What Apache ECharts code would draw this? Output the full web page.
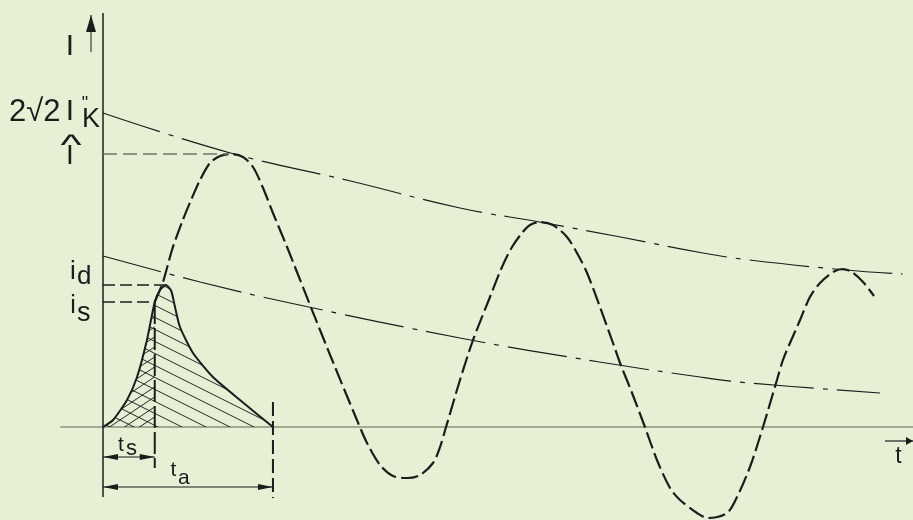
<!DOCTYPE html>
<html><head><meta charset="utf-8">
<script src="https://cdn.jsdelivr.net/npm/echarts@6/dist/echarts.min.js"></script>
<style>html,body{margin:0;padding:0;background:#e6f0d5;}#c{width:913px;height:520px;}</style>
</head><body><div id="c"></div>
<script>
// ---------- data (time in ms-like units, current in arbitrary units) ----------
const ts = 3.45;            // pre-arcing time t_s
const ta = 11.33;           // total clearing time t_a
const yTickValues = [3.14, 2.73, 1.42, 1.25];        // 2√2 I"K, Î, i_d, i_s
const yTickLabels = ['2√2 I″K', 'Î', 'i_d', 'i_s'];
const xTickValues = [ts, ta];
const xTickLabels = ['t_s', 't_a'];

const prospectiveT = [3.45, 4.0, 4.6, 5.27, 5.93, 6.47, 7.13, 7.8, 8.47, 9.33, 10.0, 10.67, 11.33, 12.27, 13.8, 15.33, 16.93, 17.6, 18.47, 19.33, 20.27, 21.13, 22.0, 22.47, 22.87, 23.8, 24.67, 25.8, 26.6, 27.27, 27.93, 28.47, 29.13, 30.0, 30.93, 31.6, 32.27, 33.13, 34.0, 34.47, 35.27, 36.13, 36.93, 37.8, 38.47, 39.6, 40.33, 41.6, 42.27, 43.13, 44.0, 44.93, 45.33, 45.8, 46.47, 47.13, 47.8, 48.67, 49.33, 49.93, 50.67, 51.4];
const prospectiveI = [1.25, 1.45, 1.77, 2.05, 2.29, 2.47, 2.64, 2.71, 2.73, 2.70, 2.60, 2.39, 2.14, 1.80, 1.22, 0.65, 0.07, -0.16, -0.38, -0.49, -0.51, -0.48, -0.36, -0.20, 0, 0.47, 0.87, 1.30, 1.60, 1.80, 1.94, 2.02, 2.05, 2.02, 1.90, 1.74, 1.54, 1.20, 0.84, 0.64, 0.34, 0, -0.33, -0.61, -0.73, -0.86, -0.91, -0.86, -0.70, -0.40, 0, 0.47, 0.67, 0.84, 1.07, 1.30, 1.44, 1.55, 1.58, 1.55, 1.45, 1.31];

const upperEnvT = [0, 8.5, 16.5, 23.8, 29.1, 34.5, 40.0, 43.1, 49.5, 53.3];
const upperEnvI = [3.14, 2.74, 2.46, 2.19, 2.05, 1.90, 1.74, 1.67, 1.57, 1.53];

const lowerEnvT = [0, 6.47, 12.47, 23.8, 33.1, 39.8, 43.1, 51.8];
const lowerEnvI = [1.71, 1.45, 1.24, 0.89, 0.65, 0.50, 0.44, 0.34];

const cutoffT = [0, 0.67, 1.6, 2.27, 2.93, 3.45, 3.8, 4.2, 4.55, 4.8, 5.13, 6.0, 7.33, 9.13, 11.33];
const cutoffI = [0, 0.07, 0.27, 0.50, 0.87, 1.25, 1.37, 1.42, 1.36, 1.20, 1.00, 0.74, 0.50, 0.27, 0];

// ---------- helpers ----------
const INK = '#1c1c1c';
const FONT = '"Liberation Sans", Arial, Helvetica, sans-serif';
const zip = (a, b) => a.map((v, i) => [v, b[i]]);

function hatch(w, h, down) {
  const c = document.createElement('canvas');
  c.width = w; c.height = h;
  const g = c.getContext('2d');
  g.strokeStyle = '#262626'; g.lineWidth = 1;
  g.beginPath();
  for (let k = -1; k <= 1; k++) {
    if (down) { g.moveTo(0, k * h); g.lineTo(w, k * h + h); }
    else { g.moveTo(0, k * h + h); g.lineTo(w, k * h); }
  }
  g.stroke();
  return c;
}

const idV = yTickValues[2], isV = yTickValues[3], peakV = yTickValues[1];
const annots = [
  { from: [0, -0.70], to: [0, 4.14], width: 1.5 },                                   // I axis
  { from: [-0.8, 3.75], to: [-0.8, 4.12], width: 1, heads: 'end', len: 17, w: 10 },  // I arrow
  { from: [52.13, -0.14], to: [54, -0.14], width: 1.2, heads: 'end', len: 7, w: 8 }, // t arrow
  { from: [0, peakV], to: [8.4, peakV], width: 1.4, dash: [14, 6], color: '#6f7568' },
  { from: [0, idV], to: [4.1, idV], width: 1.5, dash: [12, 5] },
  { from: [0, isV], to: [ts, isV], width: 1.5, dash: [12, 5] },
  { from: [ts, isV], to: [ts, -0.41], width: 2, dash: [22, 4] },
  { from: [ta, 0.25], to: [ta, -0.71], width: 2, dash: [14, 5] },
  { from: [0, -0.30], to: [ts, -0.30], width: 1, heads: 'both', len: 15, w: 6 },
  { from: [0, -0.60], to: [ta, -0.60], width: 1, heads: 'both', len: 15, w: 6 }
];

function head(tip, ux, uy, len, w) {
  const bx = tip[0] - ux * len, by = tip[1] - uy * len, nx = -uy, ny = ux;
  return { type: 'polygon', shape: { points: [tip, [bx + nx * w / 2, by + ny * w / 2], [bx - nx * w / 2, by - ny * w / 2]] }, style: { fill: INK } };
}

const chart = echarts.init(document.getElementById('c'), null, { renderer: 'canvas' });
const option = {
  backgroundColor: '#e6f0d5',
  animation: false,
  grid: { left: 61, right: 0, top: 0, bottom: 0 },
  xAxis: {
    type: 'value', min: -2.8, max: 54,
    axisLine: { show: true, onZero: true, lineStyle: { color: '#8a9282', width: 1.5 } },
    axisTick: { show: false }, axisLabel: { show: false }, splitLine: { show: false }
  },
  yAxis: { type: 'value', min: -0.93, max: 4.27, show: false },
  series: [
    { type: 'line', data: zip(upperEnvT, upperEnvI), smooth: 0.4, symbol: 'none', z: 2,
      lineStyle: { color: INK, width: 1.2, type: [60, 9, 5, 9] } },
    { type: 'line', data: zip(lowerEnvT, lowerEnvI), smooth: 0.4, symbol: 'none', z: 2,
      lineStyle: { color: INK, width: 1.2, type: [60, 9, 5, 9] } },
    { type: 'line', data: zip(prospectiveT, prospectiveI), smooth: 0.3, symbol: 'none', z: 3,
      lineStyle: { color: INK, width: 2.2, type: [17, 5] } },
    { type: 'line', data: zip(cutoffT, cutoffI), smooth: 0.2, symbol: 'none', z: 4,
      lineStyle: { color: INK, width: 2 },
      areaStyle: { color: { image: hatch(24, 12, true), repeat: 'repeat' }, opacity: 1 } },
    { type: 'line', data: zip(cutoffT, cutoffI).filter(p => p[0] <= ts), smooth: 0.2, symbol: 'none', z: 4,
      lineStyle: { width: 0, opacity: 0 },
      areaStyle: { color: { image: hatch(15, 10, false), repeat: 'repeat' }, opacity: 1 } },
    { type: 'custom', z: 5, clip: false,
      data: annots.map((a, i) => [i, 0]),
      renderItem: function (params, api) {
        const a = annots[params.dataIndex];
        const p1 = api.coord(a.from), p2 = api.coord(a.to);
        const ch = [{ type: 'line', shape: { x1: p1[0], y1: p1[1], x2: p2[0], y2: p2[1] },
          style: { stroke: a.color || INK, lineWidth: a.width, lineDash: a.dash || null, fill: null } }];
        if (a.heads) {
          const dx = p2[0] - p1[0], dy = p2[1] - p1[1], L = Math.hypot(dx, dy), ux = dx / L, uy = dy / L;
          ch.push(head(p2, ux, uy, a.len, a.w));
          if (a.heads === 'both') ch.push(head(p1, -ux, -uy, a.len, a.w));
        }
        return { type: 'group', children: ch };
      } }
  ]
};
chart.setOption(option);

// ---------- text labels, anchored on data values ----------
function txt(text, anchor, dx, baseDy, size, align, extra) {
  const p = chart.convertToPixel({ gridIndex: 0 }, anchor);
  return Object.assign({
    type: 'text', x: p[0] + dx, y: p[1] + baseDy - 0.3465 * size, z: 10,
    style: { text: text, font: size + 'px ' + FONT, fill: INK, align: align, verticalAlign: 'middle', textAlign: align, textVerticalAlign: 'middle' }
  }, extra || {});
}
const aK = [0, yTickValues[0]], aHat = [0, yTickValues[1]], aId = [0, yTickValues[2]], aIs = [0, yTickValues[3]];
const aTs = [xTickValues[0], 0], aTa = [xTickValues[1], 0];
const graphic = [
  txt('I', [0, 4.14], -33, 44, 30, 'center'),
  txt('2√2', aK, -94, 10, 31, 'left'),
  txt('I', aK, -33, 9, 30, 'center'),
  txt('"', aK, -18, -3, 18, 'center'),
  txt('K', aK, -21, 16, 27, 'left'),
  txt('^', aHat, -32, 3, 30, 'center', { scaleX: 1.5 }),
  txt('I', aHat, -33, 12, 28, 'center'),
  txt('i', aId, -30, -4, 26, 'center'),
  txt('d', aId, -26, 1, 26, 'left'),
  txt('i', aIs, -30, 13, 25, 'center'),
  txt('s', aIs, -26, 21, 27, 'left'),
  txt('t', aTs, -33.75, 25, 21, 'center'),
  txt('s', aTs, -28.75, 30, 22, 'left'),
  txt('t', aTa, -99.5, 50, 21, 'center'),
  txt('a', aTa, -95, 58, 21, 'left'),
  txt('t', [54, 0], -14.5, 38, 23, 'center')
];
chart.setOption({ graphic: graphic });
</script>
</body></html>
